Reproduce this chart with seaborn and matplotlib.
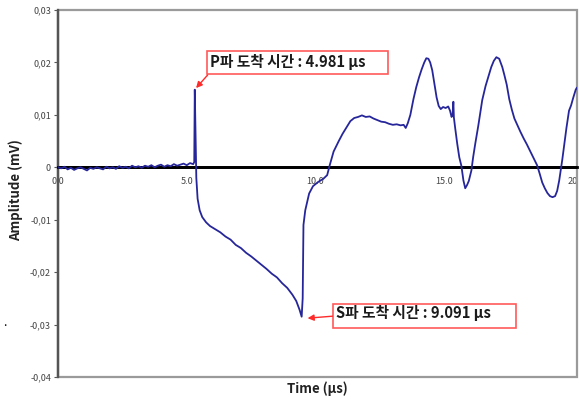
import matplotlib
matplotlib.use("Agg")
import matplotlib.pyplot as plt
from matplotlib.patches import Rectangle
import seaborn as sns
import pandas as pd

# ---------------- data ----------------
time_us = [
    0, .125, .25, .375, .5, .625, .75, .875, 1.0, 1.125, 1.25, 1.375, 1.5, 1.625, 1.75, 1.875,
    2.0, 2.125, 2.25, 2.375, 2.5, 2.625, 2.75, 2.875, 3.0, 3.125, 3.25, 3.375, 3.5, 3.625, 3.75,
    3.875, 4.0, 4.125, 4.25, 4.375, 4.5, 4.625, 4.75, 4.875, 5.0, 5.125, 5.25,
    5.29, 5.31, 5.34, 5.37, 5.42, 5.5, 5.6, 5.75, 5.9, 6.1, 6.3, 6.5, 6.7, 6.9, 7.1, 7.3, 7.5,
    7.7, 7.9, 8.1, 8.3, 8.5, 8.7, 8.9, 9.1, 9.25, 9.38, 9.46, 9.50, 9.53, 9.6, 9.75, 9.9, 10.1,
    10.3, 10.45, 10.55, 10.7, 10.9, 11.05, 11.2, 11.35, 11.5, 11.65, 11.8, 11.95, 12.1, 12.25,
    12.4, 12.55, 12.7, 12.85, 13.0, 13.15, 13.3, 13.42, 13.5, 13.58, 13.68, 13.8, 13.91, 14.02,
    14.12, 14.22, 14.3, 14.38, 14.45, 14.53, 14.62, 14.7, 14.78, 14.86, 14.95, 15.05, 15.15,
    15.22, 15.28, 15.32, 15.35, 15.37, 15.42, 15.5, 15.58, 15.66, 15.74, 15.81, 15.88, 15.95,
    16.05, 16.12, 16.2, 16.32, 16.47, 16.6, 16.72, 16.82, 16.92, 17.02, 17.13, 17.25, 17.33,
    17.42, 17.52, 17.62, 17.72, 17.82, 17.95, 18.08, 18.2, 18.32, 18.42, 18.52, 18.6, 18.7,
    18.8, 18.9, 19.0, 19.1, 19.2, 19.3, 19.38, 19.46, 19.52, 19.58, 19.66, 19.74, 19.84, 19.92,
    20.0, 20.1, 20.15,
]
amplitude_mv = [
    0.0, -0.0002, 0.0001, -0.0004, -0.0001, -0.0005, -0.0002, 0.0, -0.0003, -0.0006, -0.0001,
    -0.0003, 0.0, -0.0002, -0.0004, 0.0001, -0.0002, 0.0, -0.0003, 0.0002, -0.0001, 0.0001,
    -0.0002, 0.0003, 0.0, 0.0002, -0.0001, 0.0003, 0.0001, 0.0004, 0.0, 0.0003, 0.0005, 0.0001,
    0.0004, 0.0002, 0.0006, 0.0003, 0.0005, 0.0007, 0.0004, 0.0008, 0.0006,
    0.0010, 0.0148, 0.0060, -0.0020, -0.0060, -0.0082, -0.0095, -0.0105, -0.0112, -0.0118,
    -0.0124, -0.0132, -0.0138, -0.0148, -0.0154, -0.0163, -0.0170, -0.0178, -0.0186, -0.0194,
    -0.0203, -0.0210, -0.0221, -0.0230, -0.0243, -0.0255, -0.0272, -0.0285, -0.0250, -0.0110,
    -0.0082, -0.0050, -0.0036, -0.0028, -0.0022, -0.0015, 0.0004, 0.0030, 0.0050, 0.0064,
    0.0076, 0.0088, 0.0094, 0.0096, 0.0099, 0.0096, 0.0097, 0.0093, 0.0090, 0.0087, 0.0086,
    0.0083, 0.0081, 0.0082, 0.0080, 0.0081, 0.0075, 0.0084, 0.0100, 0.0130, 0.0153, 0.0172,
    0.0187, 0.0200, 0.0208, 0.0207, 0.0200, 0.0185, 0.0158, 0.0133, 0.0117, 0.0111, 0.0115,
    0.0113, 0.0116, 0.0108, 0.0096, 0.0100, 0.0125, 0.0095, 0.0075, 0.0045, 0.0019, 0.0003,
    -0.0025, -0.0040, -0.0034, -0.0026, -0.0006, 0.0020, 0.0045, 0.0080, 0.0128, 0.0155,
    0.0175, 0.0191, 0.0203, 0.0210, 0.0207, 0.0191, 0.0176, 0.0158, 0.0130, 0.0110, 0.0093,
    0.0082, 0.0068, 0.0055, 0.0044, 0.0032, 0.0022, 0.0012, 0.0004, -0.0012, -0.0029, -0.0040,
    -0.0049, -0.0055, -0.0057, -0.0055, -0.0045, -0.0025, -0.0005, 0.0015, 0.0045, 0.0075,
    0.0108, 0.0118, 0.0132, 0.0148, 0.0152,
]

x_ticks = [0, 5, 10, 15, 20]
x_tick_labels = ["0.0", "5.0", "10.0", "15.0", "20"]
y_ticks = [0.03, 0.02, 0.01, 0, -0.01, -0.02, -0.03, -0.04]
y_tick_labels = ["0,03", "0,02", "0,01", "0", "-0,01", "-0,02", "-0,03", "-0,04"]

p_label = "P파 도착 시간 : 4.981 μs"
s_label = "S파 도착 시간 : 9.091 μs"
x_label = "Time (μs)"
y_label = "Amplitude (mV)"

# ---------------- plot ----------------
sns.set_style("white")
plt.rcParams["font.family"] = ["Noto Sans CJK KR", "DejaVu Sans"]

df = pd.DataFrame({"time": time_us, "amp": amplitude_mv})

fig = plt.figure(figsize=(5.79, 4.01), dpi=100)
ax = fig.add_axes([58 / 579, 24 / 401, 519 / 579, 367 / 401])

ax.axhline(0, color="black", lw=2.0, zorder=2)
sns.lineplot(data=df, x="time", y="amp", sort=False, estimator=None,
             color="#26269a", lw=1.3, ax=ax, zorder=3)

ax.set_xlim(0, 20.15)
ax.set_ylim(-0.04, 0.03)

# frame drawn separately; bottom spine sits at zero (axis crosses at 0)
for s in ["top", "right"]:
    ax.spines[s].set_visible(False)
ax.spines["left"].set_color("#555555")
ax.spines["left"].set_linewidth(1.6)
frame = Rectangle((0, 0), 1, 1, transform=ax.transAxes, fill=False,
                  edgecolor="#9a9a9a", lw=1.6, clip_on=False, zorder=1)
ax.add_patch(frame)
ax.plot([0, 0], [0, 1], transform=ax.transAxes, color="#555555", lw=1.6,
        clip_on=False, zorder=1.5)

ax.set_xticks(x_ticks)
ax.set_xticklabels(x_tick_labels)
ax.set_yticks(y_ticks)
ax.set_yticklabels(y_tick_labels)
ax.tick_params(axis="y", length=3, width=0.8, pad=2, labelsize=6.5,
               labelcolor="#444444", color="#555555", left=True)
ax.xaxis.set_ticks_position("bottom")
ax.spines["bottom"].set_position(("data", 0))
ax.spines["bottom"].set_color("black")
ax.spines["bottom"].set_linewidth(2.0)
ax.tick_params(axis="x", length=0, pad=7, labelsize=6.5, labelcolor="#444444")

ax.set_xlabel(x_label, fontsize=9.5, fontweight="bold", color="#222222")
ax.set_ylabel(y_label, fontsize=9.5, fontweight="bold", color="#222222")
ax.xaxis.set_label_coords(0.5, -0.012)
ax.yaxis.set_label_coords(-0.068, 0.51)

# annotation boxes
box_kw = dict(fill=True, facecolor="white", edgecolor="#ff5a5a", lw=1.2, zorder=5)
ax.add_patch(Rectangle((5.775, 0.01776), 12.83 - 5.775, 0.02216 - 0.01776, **box_kw))
ax.text(5.89, 0.0200, p_label, fontsize=10.6, fontweight="bold", va="center", ha="left",
        color="#1a1a1a", zorder=6)
ax.annotate("", xy=(5.36, 0.01511), xytext=(5.81, 0.01760),
            arrowprops=dict(arrowstyle="-|>", color="#ff2a2a", lw=1.0,
                            mutation_scale=9, shrinkA=0, shrinkB=0), zorder=6)

ax.add_patch(Rectangle((10.66, -0.03069), 17.79 - 10.66, -0.02611 + 0.03069, **box_kw))
ax.text(10.81, -0.02782, s_label, fontsize=10.6, fontweight="bold", va="center", ha="left",
        color="#1a1a1a", zorder=6)
ax.annotate("", xy=(9.69, -0.02878), xytext=(10.66, -0.0284),
            arrowprops=dict(arrowstyle="-|>", color="#ff2a2a", lw=1.0,
                            mutation_scale=9, shrinkA=0, shrinkB=0), zorder=6)

fig.text(5 / 579, 1 - 322 / 401, ".", fontsize=9, color="black", ha="center", va="center")

fig.savefig("out.png", dpi=100)
